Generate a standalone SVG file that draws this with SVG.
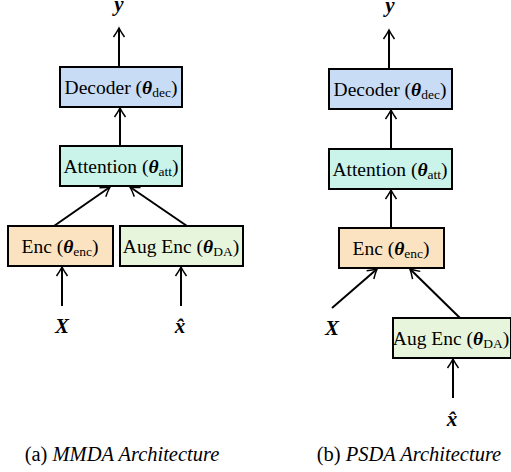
<svg xmlns="http://www.w3.org/2000/svg" width="511" height="472" viewBox="0 0 511 472">
<style>
text{font-family:'Liberation Serif','Times New Roman',serif}
.box{stroke:#000;stroke-width:2}
.dec{fill:#c9dcf5}
.att{fill:#caf4ea}
.enc{fill:#fbe3c1}
.aug{fill:#e8f5dd}
.lbl{font-size:19.5px;text-anchor:middle}
.sub{font-size:13.5px}
.th{font-weight:bold;font-style:italic}
.var{font-size:21px;font-weight:bold;font-style:italic;text-anchor:middle}
.cap{font-size:20.5px;text-anchor:middle}
.conn line{stroke:#000;stroke-width:2;marker-end:url(#ah)}
</style>
<defs>
<marker id="ah" markerWidth="14" markerHeight="14" refX="10" refY="7" orient="auto" markerUnits="userSpaceOnUse">
<path d="M1,1.5 Q6,5 10,7 Q6,9 1,12.5" fill="none" stroke="#000" stroke-width="1.5"/>
</marker>
</defs>
<rect width="511" height="472" fill="#fff"/>
<g fill="#000">
<!-- (a) -->
<g id="a-y"><text class="var" x="119" y="11">y</text></g>
<g id="a-dec"><rect class="box dec" x="60" y="67" width="122" height="40"/><text class="lbl" x="121" y="94">Decoder (<tspan class="th">θ</tspan><tspan class="sub" dy="3">dec</tspan><tspan dy="-3">)</tspan></text></g>
<g id="a-att"><rect class="box att" x="60" y="146" width="122" height="40"/><text class="lbl" x="121" y="173">Attention (<tspan class="th">θ</tspan><tspan class="sub" dy="3">att</tspan><tspan dy="-3">)</tspan></text></g>
<g id="a-enc"><rect class="box enc" x="8" y="226" width="105" height="40"/><text class="lbl" x="60" y="253">Enc (<tspan class="th">θ</tspan><tspan class="sub" dy="3">enc</tspan><tspan dy="-3">)</tspan></text></g>
<g id="a-aug"><rect class="box aug" x="120" y="226" width="123" height="40"/><text class="lbl" x="181" y="253">Aug Enc (<tspan class="th">θ</tspan><tspan class="sub" dy="3">DA</tspan><tspan dy="-3">)</tspan></text></g>
<g id="a-X"><text class="var" x="62" y="333">X</text></g>
<g id="a-xh"><text class="var" x="180" y="333">x̂</text></g>
<!-- (b) -->
<g id="b-y"><text class="var" x="390" y="12">y</text></g>
<g id="b-dec"><rect class="box dec" x="329" y="69" width="123" height="40"/><text class="lbl" x="390" y="96">Decoder (<tspan class="th">θ</tspan><tspan class="sub" dy="3">dec</tspan><tspan dy="-3">)</tspan></text></g>
<g id="b-att"><rect class="box att" x="329" y="149" width="123" height="40"/><text class="lbl" x="390" y="176">Attention (<tspan class="th">θ</tspan><tspan class="sub" dy="3">att</tspan><tspan dy="-3">)</tspan></text></g>
<g id="b-enc"><rect class="box enc" x="339" y="228" width="105" height="40"/><text class="lbl" x="391" y="255">Enc (<tspan class="th">θ</tspan><tspan class="sub" dy="3">enc</tspan><tspan dy="-3">)</tspan></text></g>
<g id="b-aug"><rect class="box aug" x="393" y="318" width="118" height="40"/><text class="lbl" x="451" y="345">Aug Enc (<tspan class="th">θ</tspan><tspan class="sub" dy="3">DA</tspan><tspan dy="-3">)</tspan></text></g>
<g id="b-X"><text class="var" x="332" y="335">X</text></g>
<g id="b-xh"><text class="var" x="452" y="426">x̂</text></g>
<g id="captions">
<text class="cap" x="122" y="461">(a) <tspan font-style="italic">MMDA Architecture</tspan></text>
<text class="cap" x="409" y="461">(b) <tspan font-style="italic">PSDA Architecture</tspan></text>
</g>
</g>
<g class="conn" id="connectors">
<line x1="119" y1="67" x2="119" y2="28"/>
<line x1="120" y1="146" x2="120" y2="108"/>
<line x1="54" y1="226" x2="110" y2="187"/>
<line x1="187" y1="226" x2="130" y2="187"/>
<line x1="62" y1="306" x2="62" y2="267"/>
<line x1="181" y1="306" x2="181" y2="267"/>
<line x1="389" y1="69" x2="389" y2="30"/>
<line x1="391" y1="149" x2="391" y2="110"/>
<line x1="391" y1="228" x2="391" y2="190"/>
<line x1="332" y1="308" x2="377" y2="269"/>
<line x1="460" y1="318" x2="410" y2="269"/>
<line x1="453" y1="398" x2="453" y2="359"/>
</g>
</svg>
